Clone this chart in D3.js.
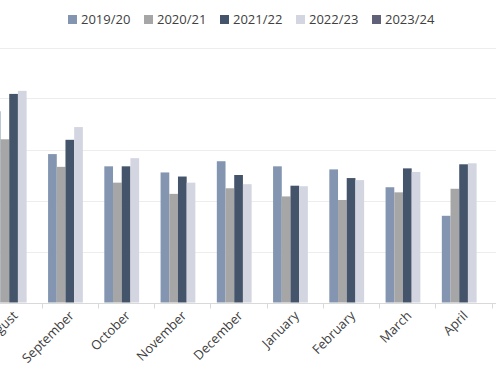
<!DOCTYPE html>
<html>
<head>
<meta charset="utf-8">
<script src="https://cdn.jsdelivr.net/npm/d3@7"></script>
<style>
  body { margin: 0; background: #fff; }
  text { font-family: "Open Sans", "Noto Sans", sans-serif; }
</style>
</head>
<body>
<div id="barChart"></div>
<script>
var months = ["August", "September", "October", "November", "December", "January", "February", "March", "April"];
var seasons = ["2019/20", "2020/21", "2021/22", "2022/23", "2023/24"];

var s2019 = [37.5, 29.1, 26.7, 25.5, 27.7, 26.7, 26.1, 22.6, 17.0];
var s2020 = [32.0, 26.6, 23.5, 21.3, 22.4, 20.8, 20.1, 21.6, 22.3];
var s2021 = [40.9, 31.9, 26.7, 24.7, 25.0, 22.9, 24.4, 26.3, 27.1];
var s2022 = [41.5, 34.4, 28.3, 23.5, 23.2, 22.8, 24.0, 25.6, 27.3];
var s2023 = [];

var yTicks = [0, 10, 20, 30, 40, 50];

var series = [s2019, s2020, s2021, s2022, s2023];

var width = 496, height = 380;

var svg = d3.select("#barChart").append("svg")
    .attr("width", width)
    .attr("height", height);

// plot area is wider than the window: left and right are cut off
var x0 = d3.scaleBand()
    .domain(months)
    .range([-14.55, 491.7])
    .paddingInner(0.2267)
    .paddingOuter(0.1133);

var x1 = d3.scaleBand()
    .domain(seasons)
    .range([0, x0.bandwidth()]);

var y = d3.scaleLinear()
    .domain([0, 50])
    .range([302.5, 47.5]);

var z = d3.scaleOrdinal()
    .domain(seasons)
    .range(["#8395b0", "#a6a6a6", "#44546a", "#d3d6e1", "#606079"]);

// grid
svg.append("g")
  .selectAll("line")
  .data(yTicks.slice(1))
  .enter().append("line")
    .attr("x1", 0)
    .attr("x2", width)
    .attr("y1", function(d) { return Math.round(y(d)) + 0.5; })
    .attr("y2", function(d) { return Math.round(y(d)) + 0.5; })
    .attr("stroke", "#ededed");

var data = months.map(function(m, i) {
  return {month: m, values: seasons.map(function(s, j) {
    return {key: s, value: series[j][i]};
  }).filter(function(d) { return d.value != null; })};
});

svg.append("g")
  .selectAll("g")
  .data(data)
  .enter().append("g")
    .attr("transform", function(d) { return "translate(" + x0(d.month) + ",0)"; })
  .selectAll("rect")
  .data(function(d) { return d.values; })
  .enter().append("rect")
    .attr("x", function(d) { return x1(d.key); })
    .attr("y", function(d) { return y(d.value); })
    .attr("width", x1.bandwidth())
    .attr("height", function(d) { return y(0) - y(d.value); })
    .attr("fill", function(d) { return z(d.key); });

// x axis
var base = Math.round(y(0)) + 0.5;
svg.append("line")
    .attr("x1", 0)
    .attr("x2", width)
    .attr("y1", base)
    .attr("y2", base)
    .attr("stroke", "#d9d9d9");

var step = x0.step();
svg.append("g")
  .selectAll("line")
  .data(months)
  .enter().append("line")
    .attr("x1", function(d) { return Math.round(x0(d) - x0.paddingOuter() * step + step) + 0.5; })
    .attr("x2", function(d) { return Math.round(x0(d) - x0.paddingOuter() * step + step) + 0.5; })
    .attr("y1", base)
    .attr("y2", base + 5)
    .attr("stroke", "#d9d9d9");

svg.append("g")
  .selectAll("text")
  .data(months)
  .enter().append("text")
    .attr("transform", function(d) { return "translate(" + (x0(d) + x0.bandwidth() / 2 + 5) + "," + (base + 13) + ") rotate(-45)"; })
    .attr("text-anchor", "end")
    .attr("font-size", 13)
    .attr("fill", "#404040")
    .text(function(d) { return d; });

// legend
var legend = svg.append("g")
  .selectAll("g")
  .data(seasons)
  .enter().append("g")
    .attr("transform", function(d, i) { return "translate(" + (68 + i * 76) + ",15)"; });

legend.append("rect")
    .attr("width", 9)
    .attr("height", 9)
    .attr("fill", z);

legend.append("text")
    .attr("x", 13)
    .attr("y", 4.5)
    .attr("dy", "0.36em")
    .attr("font-size", 13)
    .attr("fill", "#404040")
    .text(function(d) { return d; });
</script>
</body>
</html>
